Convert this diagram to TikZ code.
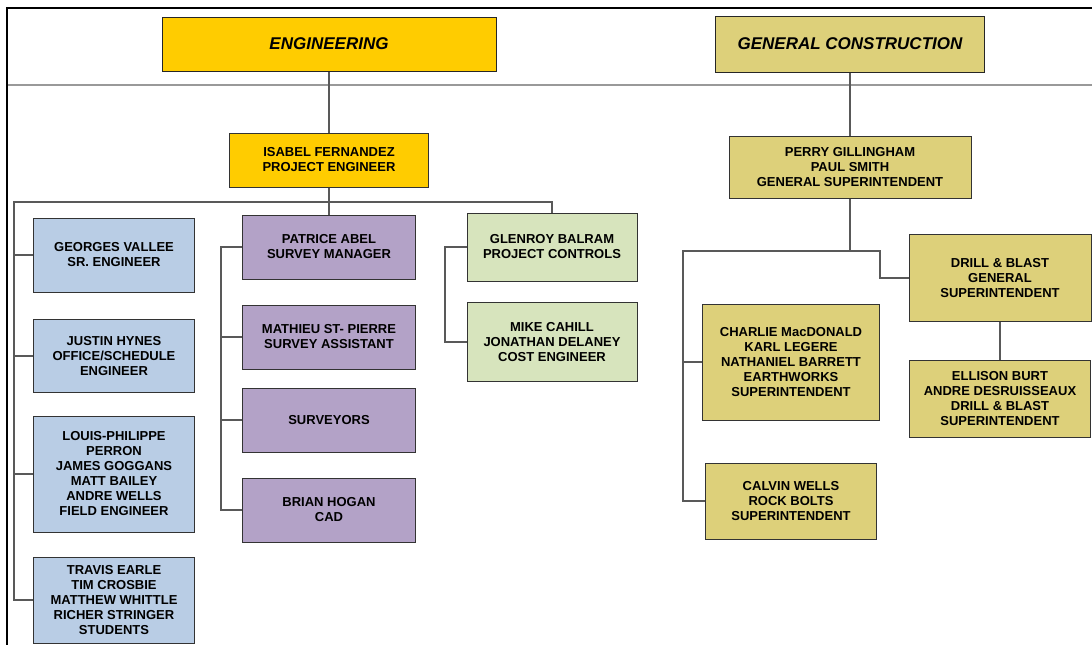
\documentclass[tikz,border=0pt]{standalone}
\usepackage{fontspec}
\setmainfont{Liberation Sans}
\usepackage{tikz}
\definecolor{gold}{HTML}{FFCC00}
\definecolor{khaki}{HTML}{DDD07A}
\definecolor{paleblue}{HTML}{B9CDE5}
\definecolor{lilac}{HTML}{B3A2C7}
\definecolor{palegreen}{HTML}{D7E4BD}
\tikzstyle{header} = [rectangle, draw=black!85, line width=1pt, text centered, font=\fontsize{17}{20}\selectfont\bfseries\itshape]
\tikzstyle{box} = [rectangle, draw=black!80, line width=1pt, align=center, inner sep=2pt, font=\fontsize{13}{15}\selectfont\bfseries]
\tikzstyle{lead} = [box, fill=gold]
\tikzstyle{engineer} = [box, fill=paleblue, minimum width=161pt]
\tikzstyle{survey} = [box, fill=lilac, minimum width=173pt, minimum height=64pt]
\tikzstyle{ctrlbox} = [box, fill=palegreen, minimum width=170pt]
\tikzstyle{super} = [box, fill=khaki]
\tikzstyle{link} = [draw=black!65, line width=1.3pt]
\tikzstyle{frame} = [draw=black, line width=1.8pt]

\begin{document}
\begin{tikzpicture}[x=1pt, y=-1pt, node distance=90pt]
\useasboundingbox (0,0) rectangle (1092,645);

% Frame
\draw [frame] (7,645) -- (7,8) -- (1092,8);
\draw [draw=black!40, line width=1.6pt] (8,85) -- (1092,85);

% Nodes
\node (eng) [header, fill=gold, minimum width=334pt, minimum height=54pt] at (329,44) {ENGINEERING};
\node (gc) [header, fill=khaki, minimum width=269pt, minimum height=56pt] at (850,44) {GENERAL CONSTRUCTION};

\node (isabel) [lead, below of=eng, yshift=-26pt, minimum width=199pt, minimum height=54pt] {ISABEL FERNANDEZ\\PROJECT ENGINEER};

\node (patrice) [survey, below of=isabel, yshift=3pt] {PATRICE ABEL\\SURVEY MANAGER};
\node (mathieu) [survey, below of=patrice] {MATHIEU ST- PIERRE\\SURVEY ASSISTANT};
\node (surveyors) [survey, below of=mathieu, yshift=7pt] {SURVEYORS};
\node (brian) [survey, below of=surveyors] {BRIAN HOGAN\\CAD};

\node (georges) [engineer, left of=patrice, xshift=-125pt, yshift=-8pt, minimum height=74pt] {GEORGES VALLEE\\SR. ENGINEER};
\node (justin) [engineer, below of=georges, yshift=-11pt, minimum height=73pt] {JUSTIN HYNES\\OFFICE/SCHEDULE\\ENGINEER};
\node (louis) [engineer, below of=justin, yshift=-28pt, minimum height=116pt] {LOUIS-PHILIPPE\\PERRON\\JAMES GOGGANS\\MATT BAILEY\\ANDRE WELLS\\FIELD ENGINEER};
\node (travis) [engineer, below of=louis, yshift=-36pt, minimum height=86pt] {TRAVIS EARLE\\TIM CROSBIE\\MATTHEW WHITTLE\\RICHER STRINGER\\STUDENTS};

\node (glenroy) [ctrlbox, right of=patrice, xshift=133pt, minimum height=68pt] {GLENROY BALRAM\\PROJECT CONTROLS};
\node (mike) [ctrlbox, below of=glenroy, yshift=-5pt, minimum height=79pt] {MIKE CAHILL\\JONATHAN DELANEY\\COST ENGINEER};

\node (perry) [super, below of=gc, yshift=-33pt, minimum width=242pt, minimum height=62pt] {PERRY GILLINGHAM\\PAUL SMITH\\GENERAL SUPERINTENDENT};
\node (drill) [super, right of=perry, xshift=60pt, yshift=-111pt, minimum width=182pt, minimum height=87pt] {DRILL \& BLAST\\GENERAL\\SUPERINTENDENT};
\node (ellison) [super, below of=drill, yshift=-31pt, minimum width=181pt, minimum height=77pt] {ELLISON BURT\\ANDRE DESRUISSEAUX\\DRILL \& BLAST\\SUPERINTENDENT};
\node (charlie) [super, below of=perry, xshift=-59pt, yshift=-105pt, minimum width=177pt, minimum height=116pt] {CHARLIE MacDONALD\\KARL LEGERE\\NATHANIEL BARRETT\\EARTHWORKS\\SUPERINTENDENT};
\node (calvin) [super, below of=charlie, yshift=-49pt, minimum width=171pt, minimum height=76pt] {CALVIN WELLS\\ROCK BOLTS\\SUPERINTENDENT};

% Bus points
\coordinate (ebus) at (329,202);
\coordinate (ltrunk) at (14,202);
\coordinate (ptrunk) at (221,247);
\coordinate (gtrunk) at (445,247);
\coordinate (cbus) at (850,251);
\coordinate (ctrunk) at (683,251);
\coordinate (dbend) at (880,251);

% Lines
\draw [link] (eng) -- (isabel);
\draw [link] (isabel) -- (patrice);
\draw [link] (ebus) -| (glenroy.north);
\draw [link] (ebus) -- (ltrunk) |- (travis.west);
\draw [link] (georges.west) -- (georges.west -| ltrunk);
\draw [link] (justin.west) -- (justin.west -| ltrunk);
\draw [link] (louis.west) -- (louis.west -| ltrunk);

\draw [link] (patrice.west) -- (ptrunk) |- (brian.west);
\draw [link] (mathieu.west) -- (mathieu.west -| ptrunk);
\draw [link] (surveyors.west) -- (surveyors.west -| ptrunk);

\draw [link] (glenroy.west) -- (gtrunk) |- (mike.west);

\draw [link] (gc) -- (perry);
\draw [link] (perry) -- (cbus);
\draw [link] (cbus) -- (ctrunk) |- (calvin.west);
\draw [link] (charlie.west) -- (charlie.west -| ctrunk);
\draw [link] (cbus) -- (dbend) |- (drill.west);
\draw [link] (drill) -- (ellison);

\end{tikzpicture}
\end{document}
